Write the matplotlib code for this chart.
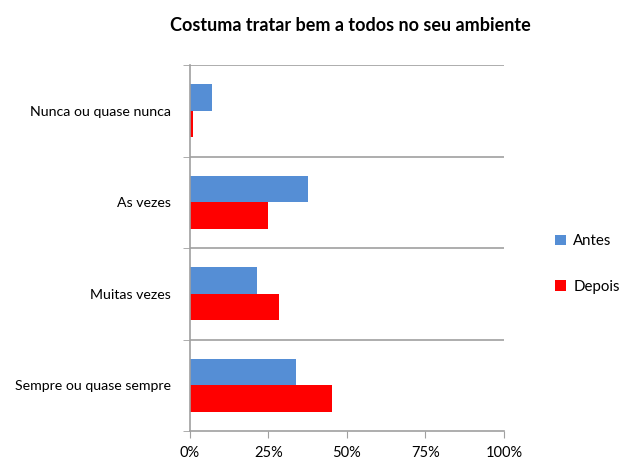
import numpy as np
import matplotlib.pyplot as plt

plt.rcParams['font.family'] = ['Lato', 'DejaVu Sans']

# data
categorias = ["Nunca ou quase nunca", "As vezes", "Muitas vezes", "Sempre ou quase sempre"]
antes = [7, 37.5, 21.3, 33.8]
depois = [1, 25, 28.3, 45.1]
series = ["Antes", "Depois"]
cores = ["#558ED5", "#FF0000"]
xticks = [0, 25, 50, 75, 100]

fig = plt.figure(figsize=(6.22, 4.69), dpi=100)
ax = fig.add_axes([0.3055, 0.081, 0.5045, 0.78])

y = np.arange(len(categorias))
h = 0.29
ax.barh(y - h / 2, antes, height=h, color=cores[0], label=series[0])
ax.barh(y + h / 2, depois, height=h, color=cores[1], label=series[1])

ax.set_ylim(len(categorias) - 0.5, -0.5)
ax.set_xlim(0, 100)

# separators between categories
for b in np.arange(-0.5, len(categorias) - 0.5, 1.0):
    ax.axhline(b, color="#A0A0A0", lw=1.2, zorder=0)

ax.set_yticks(y)
ax.set_yticklabels(categorias, fontsize=10.2)
ax.tick_params(axis="y", length=0, pad=14)
ax.set_yticks(np.arange(-0.5, len(categorias), 1.0), minor=True)
ax.tick_params(axis="y", which="minor", length=5, color="#A0A0A0", direction="out")

ax.set_xticks(xticks)
ax.set_xticklabels([f"{v}%" for v in xticks], fontsize=10.5)
ax.tick_params(axis="x", length=5, color="#A0A0A0", direction="out", pad=6)

for s in ["top", "right"]:
    ax.spines[s].set_visible(False)
for s in ["left", "bottom"]:
    ax.spines[s].set_color("#A0A0A0")
    ax.spines[s].set_linewidth(1.2)

fig.text(0.563, 0.945, "Costuma tratar bem a todos no seu ambiente",
         ha="center", va="center", fontsize=13, fontweight="bold")

fig.legend(loc="center left", bbox_to_anchor=(0.893, 0.437), frameon=False,
           fontsize=10.8, handlelength=0.7, handleheight=0.7, labelspacing=2.1,
           handletextpad=0.5, borderaxespad=0, borderpad=0)

fig.savefig("out.png", dpi=100)
